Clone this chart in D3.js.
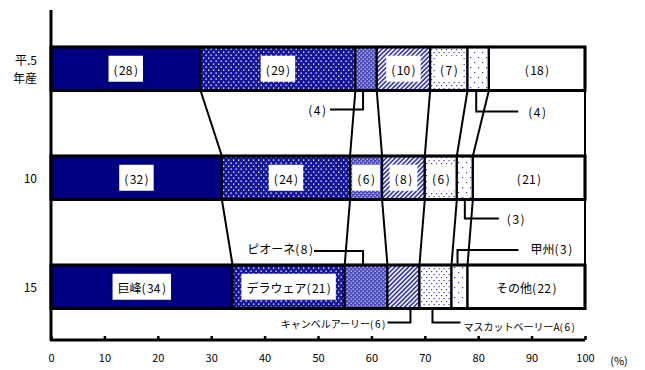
<!DOCTYPE html>
<html>
<head>
<meta charset="utf-8">
<script src="https://cdn.jsdelivr.net/npm/d3@7"></script>
<style>
  body { margin: 0; background: #fff; }
  svg { display: block; }
  text { font-family: "Noto Sans CJK JP", "Noto Sans", sans-serif; fill: #000; }
</style>
</head>
<body>
<svg id="chart" width="645" height="370"></svg>
<script>
// Grape variety shares (%) by harvest year
const years = ["5", "10", "15"];
const yearLabels = [["平.5", "年産"], ["10"], ["15"]];
const varieties = ["巨峰", "デラウェア", "ピオーネ", "キャンベルアーリー", "マスカットベーリーA", "甲州", "その他"];
const share5  = [28, 29, 4, 10, 7, 4, 18];
const share10 = [32, 24, 6, 8, 6, 3, 21];
const share15 = [34, 21, 8, 6, 6, 3, 22];
const shares = [share5, share10, share15];
const xTicks = [0, 10, 20, 30, 40, 50, 60, 70, 80, 90, 100];

// which segments carry a label inside the bar, and whether the name is shown
const insideLabels = [[0, 1, 3, 4, 6], [0, 1, 2, 3, 4, 6], [0, 1, 6]];
const insideNamed = [false, false, true];

// labels placed outside the bars with leader lines
const callouts = [
  { year: 0, cat: 2, side: "below", drop: 19, dir: -1, reach: 33, gap: 4,  named: false, size: 12, dx: -3, ty: 0 },
  { year: 0, cat: 5, side: "below", drop: 21, dir: 1,  reach: 42, gap: 10, named: false, size: 12, dx: -2, ty: 0 },
  { year: 1, cat: 5, side: "below", drop: 19, dir: 1,  reach: 34, gap: 8,  named: false, size: 12, dx: 0,  ty: 0 },
  { year: 2, cat: 2, side: "above", drop: 14, dir: -1, reach: 49, gap: 1,  named: true,  size: 12, dx: -3, ty: -3 },
  { year: 2, cat: 5, side: "above", drop: 15, dir: 1,  reach: 61, gap: 12, named: true,  size: 12, dx: -2, ty: -2 },
  { year: 2, cat: 3, side: "below", drop: 14, dir: -1, reach: 23, gap: 2,  named: true,  size: 10, dx: 7,  ty: 0 },
  { year: 2, cat: 4, side: "below", drop: 14, dir: 1,  reach: 28, gap: 3,  named: true,  size: 10, dx: -3, ty: 3 }
];

const svg = d3.select("#chart");
const x = d3.scaleLinear().domain([0, 100]).range([51, 585]);
const y = d3.scaleBand().domain(years).range([47, 308.5]).paddingInner(0.601).paddingOuter(0);
const bw = y.bandwidth();
const axisY = 340;

// ---- fill patterns ----
const defs = svg.append("defs");
function pat(id, w, h, bg, draw, transform) {
  const p = defs.append("pattern").attr("id", id).attr("patternUnits", "userSpaceOnUse")
    .attr("width", w).attr("height", h);
  if (transform) p.attr("patternTransform", transform);
  p.append("rect").attr("width", w).attr("height", h).attr("fill", bg);
  draw(p);
}
function dot(p, px, py, s, col) {
  p.append("rect").attr("x", px).attr("y", py).attr("width", s).attr("height", s).attr("fill", col);
}
pat("p-dela", 5, 6, "#16169c", p => {
  dot(p, 0.5, 0.5, 1.3, "#fff");
  dot(p, 3, 3.5, 1.3, "#fff");
});
pat("p-pione", 4, 4, "#2a2aae", p => {
  dot(p, 0.5, 0.5, 1.3, "#fff");
  dot(p, 2.5, 2.5, 1.3, "#fff");
  dot(p, 2.5, 0.5, 1, "#a8a8e6");
  dot(p, 0.5, 2.5, 1, "#a8a8e6");
});
pat("p-camp", 3.2, 3.2, "#fff", p => {
  p.append("rect").attr("width", 1.7).attr("height", 3.2).attr("fill", "#3a3abc");
}, "rotate(45)");
pat("p-mba", 5, 6, "#fff", p => {
  dot(p, 1, 1, 1.2, "#3c3cc0");
  dot(p, 3.5, 4, 1.2, "#3c3cc0");
});
pat("p-koshu", 8, 10, "#fff", p => {
  dot(p, 2, 2, 1.2, "#3c3cc0");
  dot(p, 6, 7, 1.2, "#3c3cc0");
});
const fills = ["#000080", "url(#p-dela)", "url(#p-pione)", "url(#p-camp)", "url(#p-mba)", "url(#p-koshu)", "#fff"];

// cumulative boundaries per year
const cums = shares.map(s => { let c = 0; return s.map(v => { const a = c; c += v; return [a, c]; }); });

// ---- connector lines between consecutive bars ----
const conn = svg.append("g").attr("stroke", "#000").attr("stroke-width", 2).attr("fill", "none");
for (let i = 0; i < years.length - 1; i++) {
  cums[i].forEach((seg, k) => {
    conn.append("line")
      .attr("x1", x(seg[1])).attr("y1", y(years[i]) + bw)
      .attr("x2", x(cums[i + 1][k][1])).attr("y2", y(years[i + 1]));
  });
}

function writeLabel(t, name, v) {
  if (name) t.append("tspan").text(name);
  t.append("tspan").text("(");
  t.append("tspan").attr("dx", 1.5).text(v);
  t.append("tspan").attr("dx", 1.5).text(")");
}

// ---- bars ----
years.forEach((yr, i) => {
  const g = svg.append("g");
  g.selectAll("rect").data(cums[i]).join("rect")
    .attr("x", d => x(d[0])).attr("y", y(yr))
    .attr("width", d => x(d[1]) - x(d[0])).attr("height", bw)
    .attr("fill", (d, k) => fills[k])
    .attr("stroke", "#000").attr("stroke-width", 2.2);
  g.append("rect").attr("x", x(0)).attr("y", y(yr)).attr("width", x(100) - x(0)).attr("height", bw)
    .attr("fill", "none").attr("stroke", "#000").attr("stroke-width", 3);

  // labels inside segments on white boxes
  insideLabels[i].forEach(k => {
    const [a, b] = cums[i][k];
    const cx = (x(a) + x(b)) / 2, cy = y(yr) + bw / 2;
    const lg = g.append("g");
    const box = lg.append("rect").attr("fill", "#fff");
    const t = lg.append("text").attr("x", cx).attr("y", cy).attr("text-anchor", "middle")
      .attr("dominant-baseline", "central").attr("font-size", 12);
    writeLabel(t, insideNamed[i] ? varieties[k] : "", shares[i][k]);
    const bb = t.node().getBBox();
    const bx0 = Math.max(x(a) + 2, bb.x - 5), bx1 = Math.min(x(b) - 2, bb.x + bb.width + 5);
    box.attr("x", bx0).attr("y", cy - 13).attr("width", bx1 - bx0).attr("height", 26);
  });
});

// ---- callouts with leader lines ----
callouts.forEach(c => {
  const [a, b] = cums[c.year][c.cat];
  const ax = (x(a) + x(b)) / 2 + c.dx;
  const edge = c.side === "below" ? y(years[c.year]) + bw : y(years[c.year]);
  const ly = c.side === "below" ? edge + c.drop : edge - c.drop;
  const ex = ax + c.dir * c.reach;
  svg.append("path").attr("d", `M${ax},${edge}V${ly}H${ex}`)
    .attr("fill", "none").attr("stroke", "#000").attr("stroke-width", 2);
  const t = svg.append("text").attr("x", ex + c.dir * c.gap).attr("y", ly + c.ty)
    .attr("text-anchor", c.dir < 0 ? "end" : "start").attr("dominant-baseline", "central")
    .attr("font-size", c.size);
  writeLabel(t, c.named ? varieties[c.cat] : "", shares[c.year][c.cat]);
});

// ---- axes ----
const xAxis = d3.axisBottom(x).tickValues(xTicks).tickSizeInner(-4).tickSizeOuter(0).tickPadding(14);
const axG = svg.append("g").attr("transform", `translate(0,${axisY})`).call(xAxis);
axG.select(".domain").remove();
axG.selectAll(".tick line").attr("stroke", "#000").attr("stroke-width", 2.5);
axG.selectAll(".tick text").attr("font-size", 11).attr("font-family", "'Noto Sans CJK JP', sans-serif").attr("fill", "#000");
svg.append("path").attr("d", `M${x(0)},10V${axisY}H${x(100)}`)
  .attr("fill", "none").attr("stroke", "#000").attr("stroke-width", 3).attr("stroke-linejoin", "round");
svg.append("text").attr("x", 619).attr("y", 360).attr("text-anchor", "middle")
  .attr("dominant-baseline", "central").attr("font-size", 11).text("(%)");

// year labels
years.forEach((yr, i) => {
  const lines = yearLabels[i];
  const cy = y(yr) + bw / 2;
  lines.forEach((s, j) => {
    svg.append("text").attr("x", 37).attr("y", cy + (j - (lines.length - 1) / 2) * 18)
      .attr("text-anchor", "end").attr("dominant-baseline", "central").attr("font-size", 12).text(s);
  });
});
</script>
</body>
</html>
